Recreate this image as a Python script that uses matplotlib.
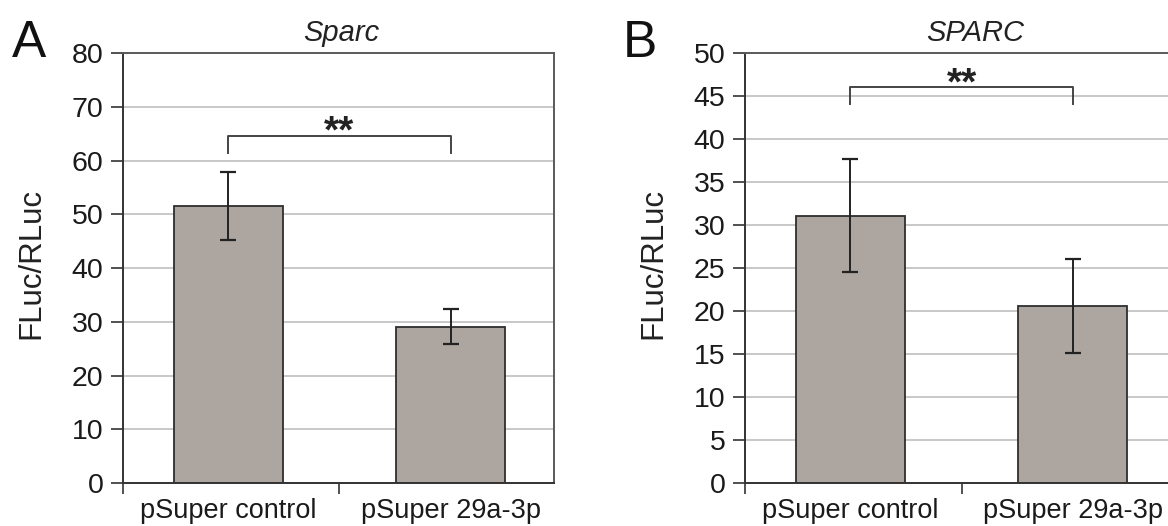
import numpy as np
import matplotlib
matplotlib.use("Agg")
import matplotlib.pyplot as plt

plt.rcParams['font.family'] = ['Liberation Sans', 'DejaVu Sans']

# data
groups = ["pSuper control", "pSuper 29a-3p"]

sparc_mean = [51.6, 29.1]
sparc_err = [6.3, 3.2]
sparc_ylim = 80
sparc_step = 10
sparc_bracket = [64.6, 61.4]   # bracket top, leg ends

SPARC_mean = [31.1, 20.6]
SPARC_err = [6.6, 5.5]
SPARC_ylim = 50
SPARC_step = 5
SPARC_bracket = [46.0, 44.1]

BAR_COLOR = "#aca5a0"
EDGE = "#2e2e2e"
GRID = "#c4c4c4"

fig = plt.figure(figsize=(11.68, 5.26), dpi=100)
fig.patch.set_facecolor("white")

def drawPanel(ax, means, errs, ymax, step, bracket, title, titleX):
	x = np.arange(len(groups))
	ax.set_axisbelow(True)
	ax.bar(x, means, width=0.49, color=BAR_COLOR, edgecolor=EDGE, linewidth=1.3, zorder=2)
	ax.errorbar(x, means, yerr=errs, fmt="none", ecolor="#222222", elinewidth=1.4,
				capsize=6, capthick=1.6, zorder=3)

	ax.set_xlim(-0.474, 1.465)
	ax.set_ylim(0, ymax)
	ax.set_yticks(np.arange(0, ymax + 1, step))
	ax.yaxis.grid(True, color=GRID, linewidth=1.3)
	ax.tick_params(axis="y", direction="out", length=9, width=1.2, color="#333333",
				   labelsize=20.5, pad=5, labelcolor="#1a1a1a")

	# category labels under the bars, boundary ticks as minor ticks
	ax.set_xticks(x)
	ax.set_xticklabels(groups)
	ax.tick_params(axis="x", which="major", length=0, labelsize=19.5, pad=11, labelcolor="#1a1a1a")
	ax.set_xticks([-0.474, 0.5], minor=True)
	ax.tick_params(axis="x", which="minor", direction="out", length=8, width=1.2, color="#333333")

	for side in ["left", "bottom"]:
		ax.spines[side].set_color("#333333")
		ax.spines[side].set_linewidth(1.4)
	for side in ["top", "right"]:
		ax.spines[side].set_color("#5a5a5a")
		ax.spines[side].set_linewidth(1.4)

	# significance bracket
	top, leg = bracket
	ax.plot([x[0], x[0], x[1], x[1]], [leg, top, top, leg], color="#444444", linewidth=1.4,
			clip_on=False, zorder=4)
	ax.annotate("**", xy=((x[0] + x[1]) / 2, top), xytext=(0, -5), textcoords="offset points",
				ha="center", va="baseline", fontsize=28, fontweight="bold", color="#222222")

	ax.annotate(title, xy=(titleX, ymax), xytext=(0, 4), textcoords="offset points",
				ha="center", va="bottom", fontsize=21, style="italic", color="#222222",
				annotation_clip=False)

	ax.set_ylabel("FLuc/RLuc", fontsize=22.5, color="#222222", va="center")
	ax.yaxis.set_label_coords(-0.213, 0.51)

axA = fig.add_axes([0.1051, 0.0817, 0.3693, 0.8175])
drawPanel(axA, sparc_mean, sparc_err, sparc_ylim, sparc_step, sparc_bracket, "Sparc", 0.51)

axB = fig.add_axes([0.6378, 0.0817, 0.3693, 0.8175])
drawPanel(axB, SPARC_mean, SPARC_err, SPARC_ylim, SPARC_step, SPARC_bracket, "SPARC", 0.56)

fig.text(12.0 / 1168, 1 - 56.7 / 526, "A", fontsize=37, ha="left", va="baseline", color="#111111")
fig.text(623.0 / 1168, 1 - 57.0 / 526, "B", fontsize=37, ha="left", va="baseline", color="#111111")

fig.savefig("out.png", dpi=100)
